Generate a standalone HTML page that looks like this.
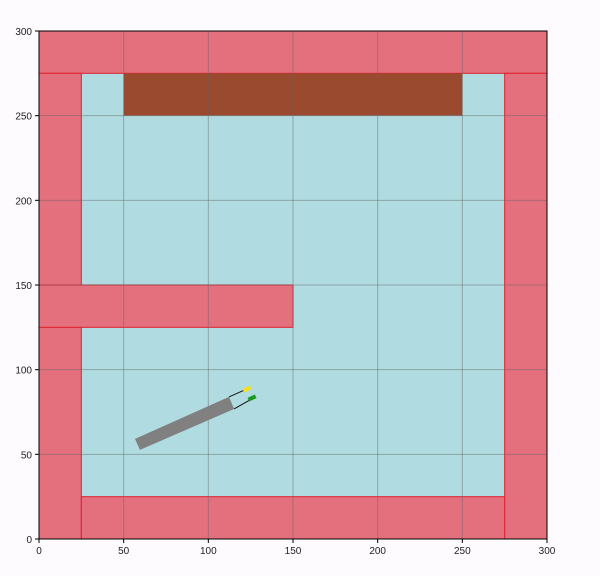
<!DOCTYPE html>
<html><head><meta charset="utf-8"><style>
html,body{margin:0;padding:0;background:#fdfbfd;}
svg{display:block;font-family:"Liberation Sans",sans-serif;}
</style></head><body>
<svg id="chart" width="600" height="576"></svg>
<script>
const ticks=[0,50,100,150,200,250,300];
const walls=[[0,275,300,25],[0,0,25,275],[275,0,25,275],[25,0,250,25],[0,125,150,25]];
const target=[50,250,200,25];
const carBody=[[56.7,59.1],[59.6,52.6],[115.2,76.8],[112.2,83.9]];
const wheelLines=[[[112.2,83.9],[122.8,88.6]],[[115.2,76.8],[124.6,82.1]]];
const frontWheels=[[122.8,88.6,'#f5e020'],[125.8,83.3,'#1a9a1a']];
const X=v=>39+v*508/300, Y=v=>539-v*508/300;
const s=document.getElementById('chart');const NS='http://www.w3.org/2000/svg';
function mk(t,a,p){const e=document.createElementNS(NS,t);for(const k in a)e.setAttribute(k,a[k]);(p||s).appendChild(e);return e;}
let bg=mk('rect',{x:X(0),y:Y(300),width:X(300)-X(0),height:Y(0)-Y(300),fill:'#b0dbe0'});


walls.forEach(w=>{const r=mk('rect',{x:X(w[0]),y:Y(w[1]+w[3]),width:X(w[0]+w[2])-X(w[0]),height:Y(w[1])-Y(w[1]+w[3]),fill:'#e4707e',stroke:'#e0202e','stroke-width':1});

});
let t=mk('rect',{x:X(target[0]),y:Y(target[1]+target[3]),width:X(target[0]+target[2])-X(target[0]),height:Y(target[1])-Y(target[1]+target[3]),fill:'#9a4a2e'});


ticks.forEach(v=>{
 let g=mk('line',{x1:X(v),x2:X(v),y1:Y(0),y2:Y(300),stroke:'rgba(100,100,100,0.45)','stroke-width':1});
 
 
 let h=mk('line',{x1:X(0),x2:X(300),y1:Y(v),y2:Y(v),stroke:'rgba(100,100,100,0.45)','stroke-width':1});
 
 
 mk('line',{x1:X(v),x2:X(v),y1:Y(0),y2:Y(0)+4,stroke:'#000'});
 mk('line',{x1:X(0)-4,x2:X(0),y1:Y(v),y2:Y(v),stroke:'#000'});
 let tx=mk('text',{x:X(v),y:Y(0)+15,'text-anchor':'middle','font-size':10,fill:'#222'});tx.textContent=v;
 
 
 let ty=mk('text',{x:X(0)-7,y:Y(v)+4,'text-anchor':'end','font-size':10,fill:'#222'});ty.textContent=v;
 
 
});
let fr=mk('rect',{x:X(0),y:Y(300),width:X(300)-X(0),height:Y(0)-Y(300),fill:'none',stroke:'#000','stroke-width':1});


let car=mk('polygon',{points:carBody.map(p=>X(p[0])+','+Y(p[1])).join(' '),fill:'#808080'});


wheelLines.forEach(l=>{let e=mk('line',{x1:X(l[0][0]),y1:Y(l[0][1]),x2:X(l[1][0]),y2:Y(l[1][1]),stroke:'#111','stroke-width':1});

});
frontWheels.forEach(w=>{let e=mk('rect',{x:X(w[0])-4,y:Y(w[1])-2,width:8,height:4,fill:w[2],transform:`rotate(-25 ${X(w[0])} ${Y(w[1])})`});

});
</script>
</body></html>
